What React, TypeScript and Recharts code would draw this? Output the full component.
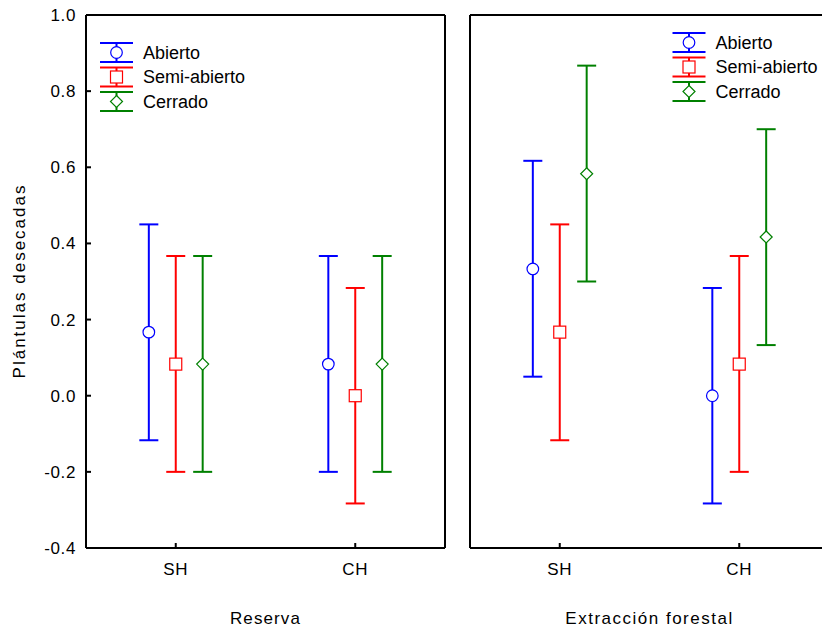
import React from 'react';
import { ComposedChart, Scatter, ErrorBar, XAxis, YAxis } from 'recharts';

// Categories and groups
const sites = ['SH', 'CH'];
const groups = ['Abierto', 'Semi-abierto', 'Cerrado'];
const yTicks = [-0.4, -0.2, 0, 0.2, 0.4, 0.6, 0.8, 1.0];

// Reserva: means with lower / upper limits
const reservaAbiertoMean = [0.167, 0.083];
const reservaAbiertoLow = [-0.117, -0.2];
const reservaAbiertoHigh = [0.45, 0.367];
const reservaSemiMean = [0.083, 0.0];
const reservaSemiLow = [-0.2, -0.283];
const reservaSemiHigh = [0.367, 0.283];
const reservaCerradoMean = [0.083, 0.083];
const reservaCerradoLow = [-0.2, -0.2];
const reservaCerradoHigh = [0.367, 0.367];

// Extracción forestal: means with lower / upper limits
const extraccionAbiertoMean = [0.333, 0.0];
const extraccionAbiertoLow = [0.05, -0.283];
const extraccionAbiertoHigh = [0.617, 0.283];
const extraccionSemiMean = [0.167, 0.083];
const extraccionSemiLow = [-0.117, -0.2];
const extraccionSemiHigh = [0.45, 0.367];
const extraccionCerradoMean = [0.583, 0.417];
const extraccionCerradoLow = [0.3, 0.133];
const extraccionCerradoHigh = [0.867, 0.7];

const BLUE = '#0000FF';
const RED = '#FF0000';
const GREEN = '#008000';
const COLORS = [BLUE, RED, GREEN];
const FONT = '"Liberation Sans", Arial, sans-serif';

// horizontal dodge of each group around its category position
const DODGE = [-0.3, 0, 0.3];

type Series = { mean: number[]; low: number[]; high: number[] };

const buildPoints = (s: Series, g: number) =>
  sites.map((site, i) => ({
    site,
    x: i * 2 + 1 + DODGE[g],
    y: s.mean[i],
    err: [s.mean[i] - s.low[i], s.high[i] - s.mean[i]],
  }));

const Marker = ({ kind, cx, cy }: { kind: number; cx: number; cy: number }) => {
  if (kind === 0)
    return <circle cx={cx} cy={cy} r={5.8} fill="#fff" stroke={BLUE} strokeWidth={1.2} />;
  if (kind === 1)
    return <rect x={cx - 6} y={cy - 6} width={12} height={12} fill="#fff" stroke={RED} strokeWidth={1.2} />;
  return (
    <polygon
      points={`${cx},${cy - 6} ${cx + 6},${cy} ${cx},${cy + 6} ${cx - 6},${cy}`}
      fill="#fff"
      stroke={GREEN}
      strokeWidth={1.2}
    />
  );
};

const axisLine = { stroke: '#000', strokeWidth: 2 };
const tickLine = { stroke: '#000', strokeWidth: 2 };

const Panel = ({
  series,
  title,
  showYLabels,
}: {
  series: Series[];
  title: string;
  showYLabels: boolean;
}) => (
  <ComposedChart width={455} height={632} margin={{ top: 0, right: 0, bottom: 0, left: 0 }}>
    <XAxis
      xAxisId="bottom"
      type="number"
      dataKey="x"
      domain={[0, 4]}
      ticks={[1, 3]}
      interval={0}
      tickFormatter={(v: number) => sites[(v - 1) / 2]}
      height={84}
      axisLine={axisLine}
      tickLine={tickLine}
      tickSize={-5}
      tickMargin={20}
      tick={{ fill: '#000', fontSize: 17, fontFamily: FONT, letterSpacing: 0.6 }}
      label={{
        value: title,
        position: 'insideBottom',
        offset: 8,
        fill: '#000',
        fontSize: 17,
        fontFamily: FONT,
        style: { letterSpacing: title.length > 10 ? 1.5 : 1.1 },
      }}
    />
    <XAxis
      xAxisId="top"
      orientation="top"
      type="number"
      dataKey="x"
      domain={[0, 4]}
      ticks={[1, 3]}
      interval={0}
      height={15}
      axisLine={axisLine}
      tickLine={tickLine}
      tickSize={-5}
      tick={false}
    />
    <YAxis
      yAxisId="left"
      type="number"
      domain={[-0.4, 1.0]}
      ticks={yTicks}
      interval={0}
      width={86}
      axisLine={axisLine}
      tickLine={tickLine}
      tickSize={-5}
      tickMargin={15}
      tickFormatter={(v: number) => v.toFixed(1)}
      tick={showYLabels ? { fill: '#000', fontSize: 17, fontFamily: FONT, letterSpacing: 0.6 } : false}
    />
    <YAxis
      yAxisId="right"
      orientation="right"
      type="number"
      domain={[-0.4, 1.0]}
      ticks={yTicks}
      interval={0}
      width={10}
      axisLine={axisLine}
      tickLine={tickLine}
      tickSize={-5}
      tick={false}
    />
    {series.map((s, g) => (
      <Scatter
        key={groups[g]}
        name={groups[g]}
        data={buildPoints(s, g)}
        xAxisId="bottom"
        yAxisId="left"
        dataKey="y"
        isAnimationActive={false}
        shape={(p: any) => <Marker kind={g} cx={p.cx} cy={p.cy} />}
      >
        <ErrorBar
          dataKey="err"
          direction="y"
          width={9.5}
          stroke={COLORS[g]}
          strokeWidth={2}
          isAnimationActive={false}
        />
      </Scatter>
    ))}
  </ComposedChart>
);

// Error-bar style legend glyphs with labels
const LegendBlock = ({ x, y }: { x: number; y: number }) => (
  <g>
    {groups.map((name, i) => {
      const top = y + i * 24.5;
      const bottom = top + 19;
      const mid = (top + bottom) / 2;
      return (
        <g key={name}>
          <line x1={x} y1={top} x2={x} y2={bottom} stroke={COLORS[i]} strokeWidth={2} />
          <line x1={x - 16.5} y1={top} x2={x + 16.5} y2={top} stroke={COLORS[i]} strokeWidth={2} />
          <line x1={x - 16.5} y1={bottom} x2={x + 16.5} y2={bottom} stroke={COLORS[i]} strokeWidth={2} />
          <Marker kind={i} cx={x} cy={mid} />
          <text
            x={x + 26.5}
            y={mid + 6.4}
            fill="#000"
            fontSize={18}
            fontFamily={FONT}
          >
            {name}
          </text>
        </g>
      );
    })}
  </g>
);

const reservaSeries: Series[] = [
  { mean: reservaAbiertoMean, low: reservaAbiertoLow, high: reservaAbiertoHigh },
  { mean: reservaSemiMean, low: reservaSemiLow, high: reservaSemiHigh },
  { mean: reservaCerradoMean, low: reservaCerradoLow, high: reservaCerradoHigh },
];

const extraccionSeries: Series[] = [
  { mean: extraccionAbiertoMean, low: extraccionAbiertoLow, high: extraccionAbiertoHigh },
  { mean: extraccionSemiMean, low: extraccionSemiLow, high: extraccionSemiHigh },
  { mean: extraccionCerradoMean, low: extraccionCerradoLow, high: extraccionCerradoHigh },
];

export default function App() {
  return (
    <div
      style={{
        position: 'absolute',
        left: 0,
        top: 0,
        width: 822,
        height: 632,
        overflow: 'hidden',
        background: '#fff',
        fontFamily: FONT,
      }}
    >
      <div style={{ position: 'absolute', left: 0, top: 0 }}>
        <Panel series={reservaSeries} title="Reserva" showYLabels />
      </div>
      <div style={{ position: 'absolute', left: 384, top: 0 }}>
        <Panel series={extraccionSeries} title="Extracción forestal" showYLabels={false} />
      </div>
      <svg
        width={822}
        height={632}
        style={{ position: 'absolute', left: 0, top: 0, pointerEvents: 'none' }}
      >
        <text
          x={25}
          y={281}
          transform="rotate(-90, 25, 281)"
          textAnchor="middle"
          fill="#000"
          fontSize={17}
          fontFamily={FONT}
          style={{ letterSpacing: 2 }}
        >
          Plántulas desecadas
        </text>
        <LegendBlock x={116.5} y={43} />
        <LegendBlock x={689} y={33} />
      </svg>
    </div>
  );
}
